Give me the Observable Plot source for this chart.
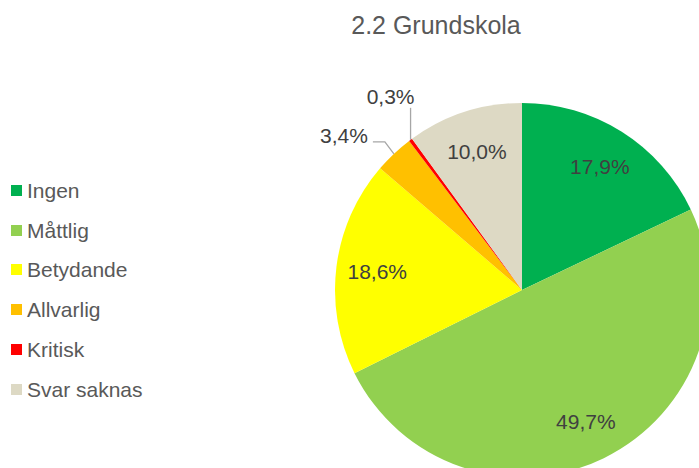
<!DOCTYPE html>
<html><head><meta charset="utf-8">
<script src="https://cdn.jsdelivr.net/npm/d3@7"></script>
<script src="https://cdn.jsdelivr.net/npm/@observablehq/plot@0.6"></script>
<style>
body{margin:0;background:#fff;font-family:"Liberation Sans",Arial,sans-serif;}
#wrap{position:relative;width:699px;height:468px;overflow:hidden;background:#fff;}
#title{position:absolute;left:0;top:0;width:699px;height:70px;}
#title span{position:absolute;left:436px;top:13px;transform:translateX(-50%);font-size:25px;line-height:25px;color:#595959;white-space:nowrap;}
#chart{position:absolute;left:0;top:70px;}
#legend{position:absolute;left:0;top:0;}
.item{position:absolute;left:11px;height:21px;line-height:21px;display:flex;align-items:center;font-size:21px;color:#595959;white-space:nowrap;}
.sw{width:11px;height:11px;margin-right:5px;flex:none;}
</style></head><body>
<div id="wrap"><div id="title"><span>2.2 Grundskola</span></div><div id="chart"></div><div id="legend"></div></div>
<script>
const categories = ["Ingen","Måttlig","Betydande","Allvarlig","Kritisk","Svar saknas"];
const values = [17.9, 49.7, 18.6, 3.4, 0.3, 10.0];
const labels = ["17,9%","49,7%","18,6%","3,4%","0,3%","10,0%"];
const colors = ["#00b050","#92d050","#ffff00","#ffc000","#ff0000","#ddd9c4"];

const color = Plot.scale({color: {type: "ordinal", domain: categories, range: colors}});
const pieData = categories.map((c, i) => ({category: c, value: values[i], label: labels[i]}));
const arcs = d3.pie().sort(null).value(d => d.value)(pieData);

const cx = 522, cy = 220, r = 187;
const arc = d3.arc().innerRadius(0).outerRadius(r);

function pieMark() {
  const g = d3.create("svg:g").attr("transform", `translate(${cx},${cy})`);
  g.selectAll("path.slice").data(arcs).join("path")
    .attr("class", "slice")
    .attr("d", arc)
    .attr("fill", d => color.apply(d.data.category));
  const font = g => g.attr("font-family", "'Liberation Sans', Arial, sans-serif")
    .attr("font-size", 21).attr("fill", "#404040");
  arcs.forEach(d => {
    const a = (d.startAngle + d.endAngle) / 2;
    const sx = Math.sin(a), sy = -Math.cos(a);
    if (d.data.value >= 5) {
      const R = 0.78 * r;
      g.append("text").call(font)
        .attr("x", R * sx).attr("y", R * sy).attr("dy", "0.35em")
        .attr("text-anchor", "middle").text(d.data.label);
    } else if (d.data.value >= 1) {
      const px = r * sx, py = r * sy;
      const ex = px - 9, ey = py - 12;
      g.append("path").attr("fill", "none").attr("stroke", "#a6a6a6").attr("stroke-width", 1.3)
        .attr("d", `M${px},${py}L${ex},${ey}L${ex - 12},${ey}`);
      g.append("text").call(font)
        .attr("x", ex - 17).attr("y", ey - 6.3).attr("dy", "0.35em")
        .attr("text-anchor", "end").text(d.data.label);
    } else {
      const px = r * sx, py = r * sy;
      const ey = py - 32;
      g.append("path").attr("fill", "none").attr("stroke", "#a6a6a6").attr("stroke-width", 1.3)
        .attr("d", `M${px},${py}L${px},${ey}`);
      g.append("text").call(font)
        .attr("x", px - 20).attr("y", ey - 11.5).attr("dy", "0.35em")
        .attr("text-anchor", "middle").text(d.data.label);
    }
  });
  return g.node();
}

const plot = Plot.plot({
  width: 699,
  height: 398,
  margin: 0,
  style: {background: "transparent", overflow: "hidden"},
  marks: [pieMark]
});
document.getElementById("chart").appendChild(plot);

const legend = document.getElementById("legend");
categories.forEach((c, i) => {
  const item = document.createElement("div");
  item.className = "item";
  item.style.top = (190.5 + i * 39.7 - 10.5) + "px";
  const sw = document.createElement("div");
  sw.className = "sw";
  sw.style.background = color.apply(c);
  item.appendChild(sw);
  item.appendChild(document.createTextNode(c));
  legend.appendChild(item);
});
</script>
</body></html>
